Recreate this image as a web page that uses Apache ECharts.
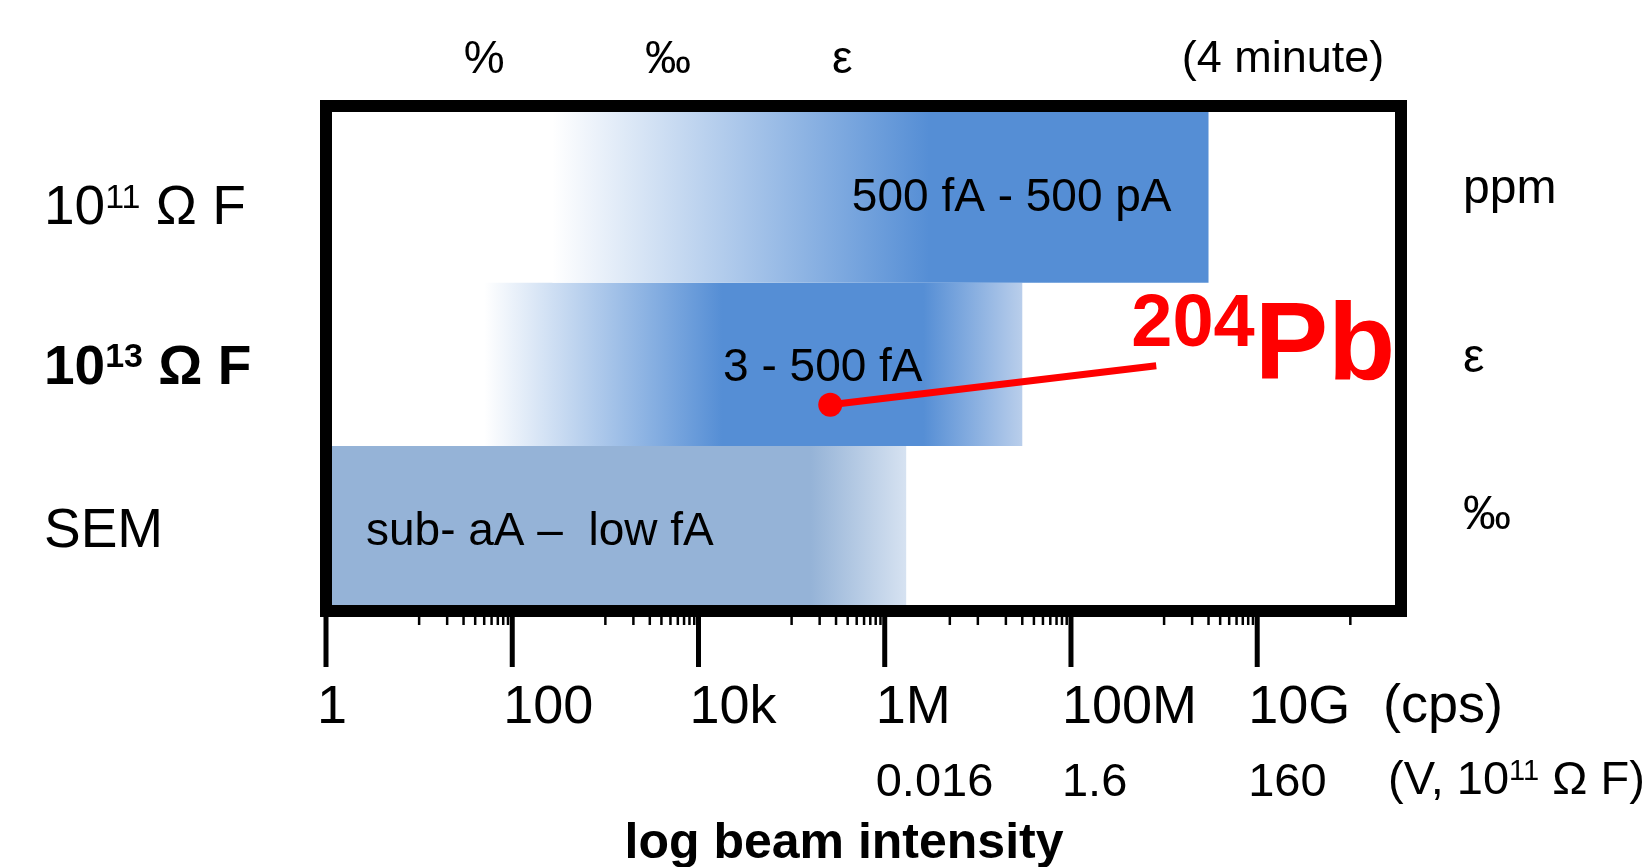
<!DOCTYPE html>
<html><head><meta charset="utf-8">
<script src="https://cdn.jsdelivr.net/npm/echarts@6/dist/echarts.min.js"></script>
<style>html,body{margin:0;padding:0;background:#fff}#c{width:1652px;height:867px}</style>
</head><body><div id="c"></div>
<script>
const FONT = '"Liberation Sans", Arial, Helvetica, sans-serif';

// ---- data (rows listed bottom -> top) ----
const detectors = ['SEM', '10^13 Ω F', '10^11 Ω F'];
const precisionLabels = ['‰', 'ε', 'ppm'];
const rangeLabels = ['sub- aA –  low fA', '3 - 500 fA', '500 fA - 500 pA'];
// beam intensities in cps
const barStart  = [1, 50, 270];
const solidFrom = [1, 18000, 3000000];
const solidTo   = [160000, 2600000, 3000000000];
const barEnd    = [1700000, 30000000, 3000000000];
// row extents on the detector scale
const rowLow  = [-0.5, 0.48, 1.45];
const rowHigh = [0.48, 1.45, 2.5];

const majorTicks = [1, 100, 10000, 1000000, 100000000, 10000000000];
const cpsLabels  = ['1', '100', '10k', '1M', '100M', '10G'];
const voltLabels = ['', '', '', '0.016', '1.6', '160'];
const minorTicks = [10, 20, 30, 40, 50, 60, 70, 80, 90,
  1000, 2000, 3000, 4000, 5000, 6000, 7000, 8000, 9000,
  100000, 200000, 300000, 400000, 500000, 600000, 700000, 800000, 900000,
  5000000,
  10000000, 20000000, 30000000, 40000000, 50000000, 60000000, 70000000, 80000000, 90000000,
  1000000000, 2000000000, 3000000000, 4000000000, 5000000000, 6000000000, 7000000000, 8000000000, 9000000000,
  100000000000];
const precisionTicks = [50, 4700, 350000];
const precisionTickLabels = ['%', '‰', 'ε'];
const pb204 = [260000, 0.725];
const xMin = 1, xMax = 350000000000;

// ---- styles ----
const barStyles = [
  {from: '#95B3D7', base: '#95B3D7', to: '#D6E2F1', label: 'left', inset: 40},
  {from: '#FFFFFF', base: '#558ED5', to: '#B9CEEB', label: 'center', inset: 0},
  {from: '#FFFFFF', base: '#558ED5', to: '#558ED5', label: 'right', inset: 37}
];
const tickStyles = [{length: 56, width: 5}, {length: 14, width: 2.5}];
const leftLabelShift = [9, 20, 38];

function nearestIndex(arr, v) {
  let best = 0, bd = Infinity;
  arr.forEach((a, i) => { const d = Math.abs(Math.log10(a) - Math.log10(v)); if (d < bd) { bd = d; best = i; } });
  return best;
}
function supLabel(text, normal, sup) {
  const m = text.match(/^(.*?)\^(\d+)(.*)$/);
  if (!m) return '{' + normal + '|' + text + '}';
  return '{' + normal + '|' + m[1] + '}{' + sup + '|' + m[2] + '}{' + normal + '|' + m[3] + '}';
}
const T = {fontFamily: FONT, color: '#000'};

const xCommon = {
  type: 'log', logBase: 10, min: xMin, max: xMax, gridIndex: 0,
  splitLine: {show: false}, minorTick: {show: false}, minorSplitLine: {show: false},
  axisLine: {show: false}, axisTick: {show: false}
};

const tickData = majorTicks.map(v => [v, 0]).concat(minorTicks.map(v => [v, 1]));

const option = {
  animation: false,
  backgroundColor: '#fff',
  grid: {left: 326, top: 106, width: 1075, height: 505, show: true, borderColor: '#000', borderWidth: 12,
    backgroundColor: 'transparent', z: 10, containLabel: false, outerBoundsMode: 'none'},
  xAxis: [
    Object.assign({}, xCommon, {
      position: 'bottom',
      axisLabel: {
        show: true, customValues: majorTicks, margin: 65, align: 'center',
        formatter: function (v) {
          const i = nearestIndex(majorTicks, v);
          let s = '{a|' + cpsLabels[i] + '}';
          if (voltLabels[i]) s += '\n{b|' + voltLabels[i] + '}';
          return s;
        },
        rich: {
          a: Object.assign({fontSize: 54, lineHeight: 64, width: 18, align: 'left'}, T),
          b: Object.assign({fontSize: 47, lineHeight: 86, width: 18, align: 'left'}, T)
        }
      },
      name: 'log beam intensity', nameLocation: 'middle', nameGap: 208,
      nameTextStyle: Object.assign({fontSize: 50, fontWeight: 'bold', padding: [0, 39, 0, 0]}, T)
    }),
    Object.assign({}, xCommon, {
      position: 'top',
      axisLabel: {
        show: true, customValues: precisionTicks, margin: 46, verticalAlign: 'middle',
        formatter: function (v) { return precisionTickLabels[nearestIndex(precisionTicks, v)]; },
        fontSize: 46, fontFamily: FONT, color: '#000'
      }
    })
  ],
  yAxis: [
    {
      type: 'category', data: detectors, position: 'left', gridIndex: 0,
      axisLine: {show: false}, axisTick: {show: false}, splitLine: {show: false},
      axisLabel: {
        margin: 282, align: 'left',
        formatter: function (v, i) { return '{sp' + i + '| }\n' + supLabel(v, 'n' + i, 's' + i); },
        rich: {
          sp0: {fontSize: 8, lineHeight: leftLabelShift[0]},
          sp1: {fontSize: 8, lineHeight: leftLabelShift[1]},
          sp2: {fontSize: 8, lineHeight: leftLabelShift[2]},
          n0: Object.assign({fontSize: 55, lineHeight: 56}, T),
          n1: Object.assign({fontSize: 55, fontWeight: 'bold', lineHeight: 56}, T),
          s1: Object.assign({fontSize: 34, fontWeight: 'bold', lineHeight: 28, verticalAlign: 'top'}, T),
          n2: Object.assign({fontSize: 55, lineHeight: 56}, T),
          s2: Object.assign({fontSize: 34, lineHeight: 28, verticalAlign: 'top'}, T)
        }
      }
    },
    {
      type: 'category', data: precisionLabels, position: 'right', gridIndex: 0,
      axisLine: {show: false}, axisTick: {show: false}, splitLine: {show: false},
      axisLabel: {
        margin: 62, align: 'left',
        formatter: function (v, i) { return '{p' + i + '|' + v + '}'; },
        rich: {
          p0: Object.assign({fontSize: 48, lineHeight: 48, padding: [0, 0, 22, 0]}, T),
          p1: Object.assign({fontSize: 48, lineHeight: 48}, T),
          p2: Object.assign({fontSize: 48, lineHeight: 48}, T)
        }
      }
    },
    {type: 'value', min: -0.5, max: 2.5, show: false, gridIndex: 0}
  ],
  graphic: [
    {type: 'text', x: 1383, y: 707, style: {text: '(cps)', fontSize: 54, fontFamily: FONT, fill: '#000', align: 'left', verticalAlign: 'middle'}},
    {type: 'text', x: 1388, y: 781, style: {
      text: '{t|(V, 10}{s|11}{t| Ω F)}', align: 'left', verticalAlign: 'middle',
      rich: {
        t: {fontSize: 47, lineHeight: 48, fontFamily: FONT, fill: '#000'},
        s: {fontSize: 29, lineHeight: 24, verticalAlign: 'top', fontFamily: FONT, fill: '#000'}
      }
    }},
    {type: 'text', x: 1283, y: 60, style: {text: '(4 minute)', fontSize: 45, fontFamily: FONT, fill: '#000', align: 'center', verticalAlign: 'middle'}}
  ],
  series: [
    {
      type: 'custom', xAxisIndex: 0, yAxisIndex: 2, z: 2,
      data: detectors.map((d, i) => [barStart[i], solidFrom[i], solidTo[i], barEnd[i], rowLow[i], rowHigh[i]]),
      renderItem: function (params, api) {
        const i = params.dataIndex;
        const tl = api.coord([api.value(0), api.value(5)]);
        const br = api.coord([api.value(3), api.value(4)]);
        const xs = api.coord([api.value(1), api.value(4)])[0];
        const xe = api.coord([api.value(2), api.value(4)])[0];
        const w = br[0] - tl[0], h = br[1] - tl[1];
        const st = barStyles[i];
        const o1 = Math.max(0, Math.min(1, (xs - tl[0]) / w));
        const o2 = Math.max(o1, Math.min(1, (xe - tl[0]) / w));
        const grad = new echarts.graphic.LinearGradient(0, 0, 1, 0, [
          {offset: 0, color: st.from}, {offset: o1, color: st.base},
          {offset: o2, color: st.base}, {offset: 1, color: st.to}
        ]);
        let tx;
        if (st.label === 'left') tx = tl[0] + st.inset;
        else if (st.label === 'right') tx = br[0] - st.inset;
        else tx = (xs + xe) / 2;
        return {
          type: 'group',
          children: [
            {type: 'rect', shape: {x: tl[0], y: tl[1], width: w, height: h}, style: {fill: grad}},
            {type: 'text', style: {text: rangeLabels[i], x: tx, y: tl[1] + h / 2 + 4, align: st.label, verticalAlign: 'middle',
              fontSize: 46, fontFamily: FONT, fill: '#000'}}
          ]
        };
      }
    },
    {
      // axis ticks: major (kind 0) and minor (kind 1), hanging below the frame
      type: 'custom', xAxisIndex: 0, yAxisIndex: 2, z: 1, clip: false,
      data: tickData,
      renderItem: function (params, api) {
        const p = api.coord([api.value(0), -0.5]);
        const ts = tickStyles[api.value(1)];
        return {type: 'line', shape: {x1: p[0], y1: p[1], x2: p[0], y2: p[1] + ts.length},
          style: {stroke: '#000', lineWidth: ts.width}};
      }
    },
    {
      type: 'custom', xAxisIndex: 0, yAxisIndex: 2, z: 5,
      data: [pb204],
      renderItem: function (params, api) {
        const p = api.coord([api.value(0), api.value(1)]);
        return {
          type: 'group',
          children: [
            {type: 'line', shape: {x1: p[0], y1: p[1], x2: p[0] + 326, y2: p[1] - 39}, style: {stroke: '#FF0000', lineWidth: 7}},
            {type: 'circle', shape: {cx: p[0], cy: p[1], r: 12}, style: {fill: '#FF0000'}},
            {type: 'text', style: {
              text: '{a|204}{b|Pb}', x: p[0] + 301, y: p[1] - 56, align: 'left', verticalAlign: 'middle',
              rich: {
                a: {fontSize: 74, fontWeight: 'bold', fontFamily: FONT, fill: '#FF0000', lineHeight: 67, verticalAlign: 'top'},
                b: {fontSize: 110, fontWeight: 'bold', fontFamily: FONT, fill: '#FF0000', lineHeight: 120}
              }
            }}
          ]
        };
      }
    }
  ]
};
const chart = echarts.init(document.getElementById('c'));
chart.setOption(option);
</script>
</body></html>
